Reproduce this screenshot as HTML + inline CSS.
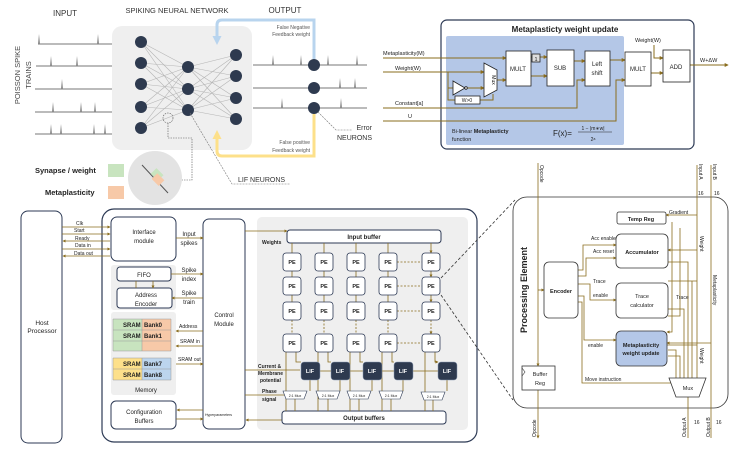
<!DOCTYPE html>
<html><head><meta charset="utf-8"><style>
html,body{margin:0;padding:0;background:#fff;}
svg{display:block;font-family:"Liberation Sans",sans-serif;}
.b{font-weight:bold;}
</style></head><body>
<svg width="738" height="449" viewBox="0 0 738 449" xmlns="http://www.w3.org/2000/svg">
<defs>
<marker id="a" viewBox="0 0 6 6" refX="5" refY="3" markerWidth="4" markerHeight="4" orient="auto"><path d="M0,0L6,3L0,6z" fill="#8a6d1e"/></marker>
<marker id="ab" viewBox="0 0 6 6" refX="4" refY="3" markerUnits="userSpaceOnUse" markerWidth="9" markerHeight="9" orient="auto"><path d="M0,0L6,3L0,6z" fill="#b8d4ee"/></marker>
<marker id="ay" viewBox="0 0 6 6" refX="4" refY="3" markerUnits="userSpaceOnUse" markerWidth="9" markerHeight="9" orient="auto"><path d="M0,0L6,3L0,6z" fill="#fde08a"/></marker>
</defs>

<text x="65" y="16" font-size="8" text-anchor="middle" fill="#333">INPUT</text>
<text x="177" y="13" font-size="7.5" text-anchor="middle" fill="#333">SPIKING NEURAL NETWORK</text>
<text x="285" y="13" font-size="8" text-anchor="middle" fill="#333">OUTPUT</text>
<text transform="translate(20,75) rotate(-90)" font-size="7.5" text-anchor="middle" fill="#444">POISSON SPIKE</text>
<text transform="translate(31,75) rotate(-90)" font-size="7.5" text-anchor="middle" fill="#444">TRAINS</text>
<g stroke="#777" stroke-width="1" fill="none">
<path d="M38,44H112M36,66H112M35,89H112M35,112H112M35,134H112"/>
<path d="M253,65H367M253,88H367M253,108H367"/>
</g>
<g fill="#888">
<path d="M38,44l1,-10l1,10zM97,44l1,-10l1,10z"/>
<path d="M50,66l1,-10l1,10zM76,66l1,-10l1,10z"/>
<path d="M61,89l1,-10l1,10z"/>
<path d="M52,112l1,-10l1,10zM80,112l1,-10l1,10zM94,112l1,-10l1,10z"/>
<path d="M50,134l1,-10l1,10zM60,134l1,-10l1,10zM93,134l1,-10l1,10zM104,134l1,-10l1,10z"/>
<path d="M272,65l1,-10l1,10zM300,65l1,-10l1,10zM327,65l1,-10l1,10zM356,65l1,-10l1,10z"/>
<path d="M339,88l1,-10l1,10zM354,88l1,-10l1,10z"/>
<path d="M281,108l1,-10l1,10zM340,108l1,-10l1,10z"/>
</g>
<rect x="112" y="26" width="140" height="124" rx="10" fill="#efefef"/>
<g stroke="#b5b5b5" stroke-width="0.6">
<path d="M141,42L188,67M141,42L188,89M141,42L188,110M141,63L188,67M141,63L188,89M141,63L188,110M141,84L188,67M141,84L188,89M141,84L188,110M141,107L188,67M141,107L188,89M141,107L188,110M141,128L188,67M141,128L188,89M141,128L188,110"/>
<path d="M188,67L236,55M188,67L236,76M188,67L236,98M188,67L236,119M188,89L236,55M188,89L236,76M188,89L236,98M188,89L236,119M188,110L236,55M188,110L236,76M188,110L236,98M188,110L236,119"/>
</g>
<g fill="#2e3a4f">
<circle cx="141" cy="42" r="6"/><circle cx="141" cy="63" r="6"/><circle cx="141" cy="84" r="6"/><circle cx="141" cy="107" r="6"/><circle cx="141" cy="128" r="6"/>
<circle cx="188" cy="67" r="6"/><circle cx="188" cy="89" r="6"/><circle cx="188" cy="110" r="6"/>
<circle cx="236" cy="55" r="6"/><circle cx="236" cy="76" r="6"/><circle cx="236" cy="98" r="6"/><circle cx="236" cy="119" r="6"/>
<circle cx="314" cy="65" r="6"/><circle cx="314" cy="88" r="6"/><circle cx="314" cy="108" r="6"/>
</g>
<path d="M314,59V20H222Q217,20 217,25V42" stroke="#b8d4ee" stroke-width="3" fill="none" marker-end="url(#ab)"/>
<path d="M314,114V156H222Q217,156 217,151V133" stroke="#fde08a" stroke-width="3" fill="none" marker-end="url(#ay)"/>
<text x="310" y="29" font-size="5" text-anchor="end" fill="#555">False Negative</text>
<text x="310" y="36" font-size="5" text-anchor="end" fill="#555">Feedback weight</text>
<text x="310" y="144" font-size="5" text-anchor="end" fill="#555">False positive</text>
<text x="310" y="152" font-size="5" text-anchor="end" fill="#555">Feedback weight</text>
<text x="372" y="130" font-size="7" text-anchor="end" fill="#333">Error</text>
<text x="372" y="140" font-size="7" text-anchor="end" fill="#333">NEURONS</text>
<path d="M318,112L336,130H352" stroke="#777" stroke-width="0.6" stroke-dasharray="2,1" fill="none"/>
<path d="M190,113L232,184H290" stroke="#777" stroke-width="0.6" stroke-dasharray="2,1" fill="none"/>
<text x="238" y="182" font-size="7" fill="#333">LIF NEURONS</text>
<circle cx="168" cy="118" r="5" fill="none" stroke="#555" stroke-width="0.6" stroke-dasharray="1.5,1"/>
<path d="M168,123V138H192V180H182" stroke="#555" stroke-width="0.6" stroke-dasharray="1.5,1" fill="none"/>
<circle cx="155" cy="178" r="27" fill="#e3e3e3"/>
<path d="M142,165L168,193" stroke="#555" stroke-width="1"/>
<rect x="149" y="170" width="10" height="8" fill="#c8e4bf" transform="rotate(45 155 178)"/>
<rect x="152" y="176" width="10" height="8" fill="#f7c9a8" transform="rotate(45 158 181)"/>
<text x="35" y="173" font-size="7.5" class="b" fill="#222">Synapse / weight</text>
<rect x="108" y="164" width="16" height="13" fill="#c8e4bf"/>
<text x="45" y="195" font-size="7.5" class="b" fill="#222">Metaplasticity</text>
<rect x="108" y="186" width="16" height="13" fill="#f7c9a8"/>

<rect x="441" y="20" width="253" height="129" rx="6" fill="#fff" stroke="#2d3a55" stroke-width="1.2"/>
<text x="565" y="32" font-size="8" class="b" text-anchor="middle" fill="#222">Metaplasticty weight update</text>
<rect x="446" y="36" width="178" height="109" rx="2" fill="#b4c7e7"/>
<g stroke="#8a6d1e" stroke-width="1" fill="none">
<path d="M383,58H506" marker-end="url(#a)"/>
<path d="M383,72H484" marker-end="url(#a)"/>
<path d="M448,72V100H455M448,88H453M467,88H484" marker-end="url(#a)"/>
<path d="M480,100H493V94"/>
<path d="M497,80H506" marker-end="url(#a)"/>
<path d="M531,57H532M540,57H547" marker-end="url(#a)"/>
<path d="M531,76H547" marker-end="url(#a)"/>
<path d="M574,61H585" marker-end="url(#a)"/>
<path d="M383,108H577V80H585" marker-end="url(#a)"/>
<path d="M383,121H616V80H625" marker-end="url(#a)"/>
<path d="M610,60H625" marker-end="url(#a)"/>
<path d="M651,73H663" marker-end="url(#a)"/>
<path d="M654,45V58H663" marker-end="url(#a)"/>
<path d="M690,65H728" marker-end="url(#a)"/>
</g>
<g fill="#fff" stroke="#222" stroke-width="0.8">
<rect x="506" y="51" width="25" height="35"/>
<rect x="532" y="54" width="8" height="8" fill="#ddd"/>
<rect x="547" y="50" width="27" height="36"/>
<rect x="585" y="51" width="25" height="35"/>
<rect x="625" y="52" width="26" height="34"/>
<rect x="663" y="50" width="27" height="32"/>
<rect x="455" y="96" width="25" height="8"/>
<path d="M484,63L497,70V90L484,97Z"/>
<path d="M453,81V95L465,88Z"/>
<circle cx="466" cy="88" r="1.3"/>
</g>
<g font-size="6" fill="#222" text-anchor="middle">
<text x="518" y="71">MULT</text><text x="536" y="61" font-size="5.5">1</text>
<text x="560" y="70">SUB</text><text x="597" y="66">Left</text><text x="597" y="75">shift</text>
<text x="638" y="71">MULT</text><text x="676" y="69">ADD</text>
<text x="467" y="102" font-size="5">W&gt;0</text>
<text transform="translate(492,80) rotate(90)" font-size="5">Mux</text>
</g>
<g font-size="5.5" fill="#222">
<text x="383" y="55">Metaplasticity(M)</text><text x="395" y="70">Weight(W)</text>
<text x="395" y="105">Constant[a]</text><text x="408" y="118">U</text>
<text x="635" y="42">Weight(W)</text><text x="700" y="62">W+ΔW</text>
<text x="452" y="133">Bi-linear <tspan class="b">Metaplasticty</tspan></text><text x="452" y="141">function</text>
<text x="553" y="136" font-size="8">F(x)=</text>
<text x="593" y="130" font-size="5" text-anchor="middle">1 − |m∗w|</text>
<text x="593" y="141" font-size="5" text-anchor="middle">2ᵃ</text>
</g>
<path d="M578,132H612" stroke="#222" stroke-width="0.5"/>

<rect x="21" y="211" width="41" height="232" rx="7" fill="#fff" stroke="#2d3a55" stroke-width="1"/>
<text x="42" y="325" font-size="6.5" text-anchor="middle" fill="#222">Host</text>
<text x="42" y="333" font-size="6.5" text-anchor="middle" fill="#222">Processor</text>
<rect x="102" y="209" width="375" height="233" rx="12" fill="#fff" stroke="#2d3a55" stroke-width="1.2"/>
<rect x="111" y="265" width="65" height="45" rx="3" fill="#efefef"/>
<rect x="111" y="312" width="65" height="83" rx="3" fill="#efefef"/>
<rect x="257" y="217" width="211" height="213" rx="5" fill="#efefef"/>
<g fill="#fff" stroke="#2d3a55" stroke-width="1">
<rect x="111" y="217" width="65" height="44" rx="6"/>
<rect x="203" y="219" width="42" height="210" rx="6"/>
<rect x="117" y="267" width="54" height="14" rx="3"/>
<rect x="117" y="288" width="55" height="20" rx="3"/>
<rect x="111" y="401" width="65" height="28" rx="5"/>
</g>
<rect x="113" y="319" width="29" height="32" fill="#c8e4bf"/><rect x="142" y="319" width="29" height="32" fill="#f7c9a8"/>
<rect x="113" y="358" width="29" height="22" fill="#fde08a"/><rect x="142" y="358" width="29" height="22" fill="#bcd5ee"/>
<g stroke="#999" stroke-width="0.5" fill="none"><path d="M113,319H171V351H113ZM113,330H171M113,341H171M142,319V351"/><path d="M113,358H171V380H113ZM113,369H171M142,358V380"/></g>
<g font-size="6" class="b" fill="#222">
<text x="123" y="327">SRAM</text><text x="144" y="327">Bank0</text>
<text x="123" y="338">SRAM</text><text x="144" y="338">Bank1</text>
<text x="123" y="366">SRAM</text><text x="144" y="366">Bank7</text>
<text x="123" y="377">SRAM</text><text x="144" y="377">Bank8</text>
</g>
<g font-size="6" fill="#222" text-anchor="middle">
<text x="144" y="234">Interface</text><text x="144" y="243">module</text>
<text x="144" y="277">FIFO</text><text x="146" y="297">Address</text><text x="146" y="306">Encoder</text>
<text x="146" y="392">Memory</text>
<text x="144" y="414">Configuration</text><text x="144" y="423">Buffers</text>
<text x="224" y="317">Control</text><text x="224" y="326">Module</text>
<text x="189" y="236">Input</text><text x="189" y="245">spikes</text>
<text x="189" y="272">Spike</text><text x="189" y="281">index</text>
<text x="189" y="295">Spike</text><text x="189" y="304">train</text>
</g>
<g font-size="5" fill="#222">
<text x="179" y="328">Address</text><text x="180" y="343">SRAM in</text><text x="178" y="361">SRAM out</text>
<text x="205" y="416" font-size="3.5">Hyperparameters</text>
<text x="76" y="225">Clk</text><text x="74" y="232">Start</text><text x="75" y="240">Ready</text><text x="75" y="247">Data in</text><text x="74" y="255">Data out</text>
<text x="262" y="244" class="b">Weights</text>
<text x="258" y="368" class="b" font-size="5">Current &amp;</text><text x="258" y="375" font-size="5" class="b">Membrane</text><text x="260" y="382" font-size="5" class="b">potential</text>
<text x="262" y="393" class="b">Phase</text><text x="262" y="401" class="b">signal</text>
</g>
<g stroke="#8a6d1e" stroke-width="0.8" fill="none">
<path d="M62,227H110" marker-end="url(#a)"/><path d="M62,234H110" marker-end="url(#a)"/>
<path d="M110,241H63" marker-end="url(#a)"/><path d="M62,249H110" marker-end="url(#a)"/>
<path d="M110,256H63" marker-end="url(#a)"/>
<path d="M176,238H203" marker-end="url(#a)"/><path d="M171,274H203" marker-end="url(#a)"/>
<path d="M203,298H172" marker-end="url(#a)"/>
<path d="M136,281V288M153,281V288" marker-end="url(#a)"/>
<path d="M203,331H176" marker-end="url(#a)"/><path d="M203,346H176" marker-end="url(#a)"/>
<path d="M176,364H203" marker-end="url(#a)"/>
<path d="M203,410H177" marker-end="url(#a)"/><path d="M176,419H203" marker-end="url(#a)"/>
<path d="M245,231H287" marker-end="url(#a)"/>
<path d="M245,370H300" /><path d="M245,395H291"/><path d="M282,420H246" marker-end="url(#a)"/>
</g>
<rect x="287" y="230" width="154" height="13" rx="3" fill="#fff" stroke="#2d3a55"/>
<text x="364" y="239" font-size="6" class="b" text-anchor="middle" fill="#222">Input buffer</text>
<rect x="282" y="411" width="164" height="13" rx="3" fill="#fff" stroke="#2d3a55"/>
<text x="364" y="420" font-size="6" class="b" text-anchor="middle" fill="#222">Output buffers</text>
<g stroke="#8a6d1e" stroke-width="0.8" fill="none">
<path d="M292,243V253M324,243V253M356,243V253M388,243V253M431,243V253" marker-end="url(#a)"/>
<path d="M292,271V277M324,271V277M356,271V277M388,271V277M431,271V277" marker-end="url(#a)"/>
<path d="M292,295V302M324,295V302M356,295V302M388,295V302M431,295V302" marker-end="url(#a)"/>
<path d="M292,320V334M324,320V334M356,320V334M388,320V334M431,320V334" stroke-dasharray="2,1.5" marker-end="url(#a)"/>
<path d="M397,262H422M397,286H422M397,311H422M397,343H422" stroke-dasharray="2,1.5"/>
<path d="M296,352V362H301M328,352V362H331M360,352V362H363M392,352V362H394M435,352V362H438" marker-end="url(#a)"/>
<path d="M286,352V411M318,352V411M350,352V411M382,352V411M425,352V411"/>
<path d="M319,371H331M349,371H363M381,371H394M412,371H438" />
<path d="M310,380V391M340,380V391M372,380V391M403,380V391M447,380V391"/>
<path d="M295,399V411M328,399V411M359,399V411M391,399V411M433,399V411"/>
</g>
<g fill="#fff" stroke="#2d3a55" stroke-width="0.8">
<g id="pecol">
<rect x="283" y="253" width="18" height="18" rx="3"/><rect x="283" y="277" width="18" height="18" rx="3"/>
<rect x="283" y="302" width="18" height="18" rx="3"/><rect x="283" y="334" width="18" height="18" rx="3"/>
</g>
<use href="#pecol" x="32"/><use href="#pecol" x="64"/><use href="#pecol" x="96"/><use href="#pecol" x="139"/>
</g>
<g font-size="5.5" class="b" fill="#222" text-anchor="middle">
<g id="petx"><text x="292" y="264">PE</text><text x="292" y="288">PE</text><text x="292" y="313">PE</text><text x="292" y="345">PE</text></g>
<use href="#petx" x="32"/><use href="#petx" x="64"/><use href="#petx" x="96"/><use href="#petx" x="139"/>
</g>
<g fill="#2e3a4f" stroke="#8a9ab5" stroke-width="0.5">
<rect x="301" y="362" width="19" height="18" rx="3"/><rect x="331" y="362" width="19" height="18" rx="3"/>
<rect x="363" y="362" width="19" height="18" rx="3"/><rect x="394" y="362" width="19" height="18" rx="3"/>
<rect x="438" y="362" width="19" height="18" rx="3"/>
</g>
<g font-size="5.5" class="b" fill="#fff" text-anchor="middle">
<text x="310" y="373">LIF</text><text x="340" y="373">LIF</text><text x="372" y="373">LIF</text><text x="403" y="373">LIF</text><text x="447" y="373">LIF</text>
</g>
<g fill="#fff" stroke="#2d3a55" stroke-width="0.6">
<path d="M283,391H307L304,399H286Z"/><path d="M316,391H340L337,399H319Z"/><path d="M347,391H371L368,399H350Z"/><path d="M379,391H403L400,399H382Z"/><path d="M421,392H445L442,400H424Z"/>
</g>
<g font-size="3.5" fill="#222" text-anchor="middle">
<text x="295" y="397">2:1 Mux</text><text x="328" y="397">2:1 Mux</text><text x="359" y="397">2:1 Mux</text><text x="391" y="397">2:1 Mux</text><text x="433" y="398">2:1 Mux</text>
</g>
<path d="M441,278L515,200M441,295L513,400" stroke="#333" stroke-width="0.8" stroke-dasharray="3,2" fill="none"/>

<rect x="513" y="197" width="215" height="211" rx="14" fill="#fff" stroke="#333" stroke-width="0.8"/>
<text transform="translate(527,290) rotate(-90)" font-size="9" class="b" text-anchor="middle" fill="#222">Processing Element</text>
<g stroke="#8a6d1e" stroke-width="0.8" fill="none">
<path d="M538,163V366" marker-end="url(#a)"/><path d="M538,390V438" marker-end="url(#a)"/>
<path d="M538,290H544" marker-end="url(#a)"/>
<path d="M697,165V385M711,165V438M688,397V438" />
<path d="M697,215H666" marker-end="url(#a)"/>
<path d="M697,250H668" marker-end="url(#a)"/><path d="M697,281H668M697,345H667"/>
<path d="M711,343H667" marker-end="url(#a)"/>
<path d="M578,270H583V245H616" marker-end="url(#a)"/>
<path d="M578,276H586V258H616" marker-end="url(#a)"/>
<path d="M578,284H590V300H616" marker-end="url(#a)"/>
<path d="M578,296H584V340H616" marker-end="url(#a)"/>
<path d="M578,302H582V383H677" marker-end="url(#a)"/>
<path d="M672,222V332H667" marker-end="url(#a)"/>
<path d="M680,228V316H668" /><path d="M668,262H688V378M668,309H684V378M668,350H676V378M668,356H680V378M692,281V378M697,378"/>
</g>
<g fill="#fff" stroke="#333" stroke-width="0.8">
<rect x="544" y="262" width="34" height="56" rx="5"/>
<rect x="617" y="212" width="49" height="12" rx="2"/>
<rect x="616" y="234" width="52" height="34" rx="5"/>
<rect x="616" y="283" width="52" height="35" rx="5"/>
<rect x="616" y="331" width="51" height="35" rx="5" fill="#b4c7e7"/>
<rect x="522" y="366" width="33" height="24"/>
<path d="M669,378H706L699,397H676Z"/>
</g>
<path d="M522,368L525,372L522,376" fill="none" stroke="#333" stroke-width="0.6"/>
<g font-size="5.5" fill="#222" text-anchor="middle">
<text x="561" y="293" class="b">Encoder</text>
<text x="641" y="221" class="b">Temp Reg</text>
<text x="642" y="254" class="b">Accumulator</text>
<text x="642" y="298">Trace</text><text x="642" y="307">calculator</text>
<text x="641" y="347" class="b">Metaplasticity</text><text x="641" y="355" class="b">weight update</text>
<text x="540" y="376">Buffer</text><text x="540" y="385">Reg</text>
<text x="688" y="390">Mux</text>
</g>
<g font-size="5" fill="#222">
<text x="591" y="240">Acc enable</text><text x="593" y="253">Acc reset</text>
<text x="593" y="283">Trace</text><text x="593" y="297">enable</text>
<text x="588" y="347">enable</text><text x="585" y="381">Move instruction</text>
<text x="669" y="214">Gradient</text><text x="676" y="299">Trace</text>
<text transform="translate(700,236) rotate(90)">Weight</text>
<text transform="translate(700,348) rotate(90)">Weight</text>
<text transform="translate(713,275) rotate(90)">Metaplasticity</text>
<text transform="translate(540,165) rotate(90)">Opcode</text>
<text transform="translate(536,437) rotate(-90)">Opcode</text>
<text transform="translate(699,164) rotate(90)">Input A</text>
<text transform="translate(713,164) rotate(90)">Input B</text>
<text transform="translate(686,437) rotate(-90)">Output A</text>
<text transform="translate(710,437) rotate(-90)">Output B</text>
<text x="698" y="195">16</text><text x="714" y="195">16</text>
<text x="694" y="424">16</text><text x="716" y="424">16</text>
</g>
</svg>
</body></html>
